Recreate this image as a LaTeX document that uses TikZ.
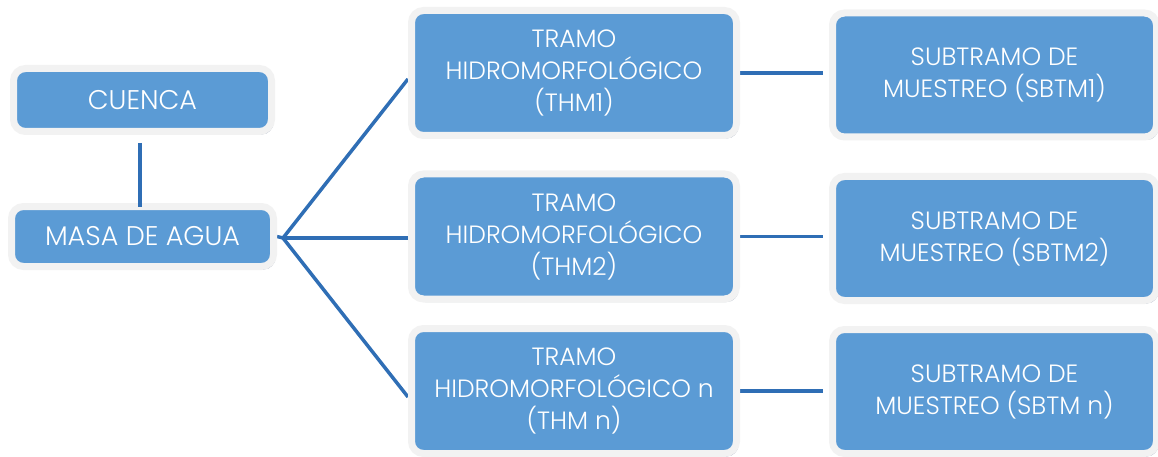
\documentclass[tikz,border=0pt]{standalone}
\usepackage{fontspec}
\setmainfont{Poppins Light}
\usetikzlibrary{shadows,backgrounds}
\definecolor{boxblue}{HTML}{5B9BD5}
\definecolor{lineblue}{HTML}{2F6EB5}
\definecolor{framegrey}{HTML}{F2F2F2}
\definecolor{shadowgrey}{HTML}{9AA6B8}
\tikzset{
  box/.style={fill=boxblue, draw=framegrey, line width=7pt, rounded corners=12pt,
    text=white, align=center, font=\fontsize{25}{32}\selectfont, inner sep=0pt,
    drop shadow={shadow xshift=2pt, shadow yshift=-3pt, fill=shadowgrey, opacity=1}},
  bigtext/.style={font=\fontsize{27}{32}\selectfont},
  conn/.style={draw=lineblue, line width=3.5pt}
}
\begin{document}
\begin{tikzpicture}[x=1pt,y=-1pt]
\useasboundingbox (0,0) rectangle (1158,457);
\node[box, bigtext, minimum width=258pt, minimum height=63pt] (cuenca) at (142.5,100) {CUENCA};
\node[box, bigtext, minimum width=262pt, minimum height=60pt] (masa) at (142.5,236.5) {MASA DE AGUA};
\node[box, minimum width=325pt, minimum height=125pt] (thm1) at (574,73) {TRAMO\\HIDROMORFOLÓGICO\\(THM1)};
\node[box, minimum width=325pt, minimum height=125pt] (thm2) at (574,236.5) {TRAMO\\HIDROMORFOLÓGICO\\(THM2)};
\node[box, minimum width=325pt, minimum height=125pt] (thmn) at (574,391) {TRAMO\\HIDROMORFOLÓGICO n\\(THM n)};
\node[box, minimum width=324pt, minimum height=124pt] (sb1) at (994.5,75) {SUBTRAMO DE\\MUESTREO (SBTM1)};
\node[box, minimum width=324pt, minimum height=124pt] (sb2) at (994.5,238.5) {SUBTRAMO DE\\MUESTREO (SBTM2)};
\node[box, minimum width=324pt, minimum height=124pt] (sbn) at (994.5,391.5) {SUBTRAMO DE\\MUESTREO (SBTM n)};
\coordinate (hub) at (283,238);
\begin{scope}[on background layer]
\draw[conn] (masa.east) -- (hub);
\draw[conn] (hub) -- ([yshift=-6pt]thm1.west);
\draw[conn] (hub) -- ([yshift=-1.5pt]thm2.west);
\draw[conn] (hub) -- ([yshift=-6pt]thmn.west);
\draw[conn, shorten >=6pt] (thm1.east) -- (thm1.east -| sb1.west);
\draw[conn, shorten >=6pt] (thm2.east) -- (thm2.east -| sb2.west);
\draw[conn, shorten >=6pt] (thmn.east) -- (thmn.east -| sbn.west);
\end{scope}
\draw[conn, shorten <=8pt, shorten >=-3.5pt] ([xshift=-2.5pt]cuenca.south) -- ([xshift=-2.5pt]masa.north);
\end{tikzpicture}
\end{document}
